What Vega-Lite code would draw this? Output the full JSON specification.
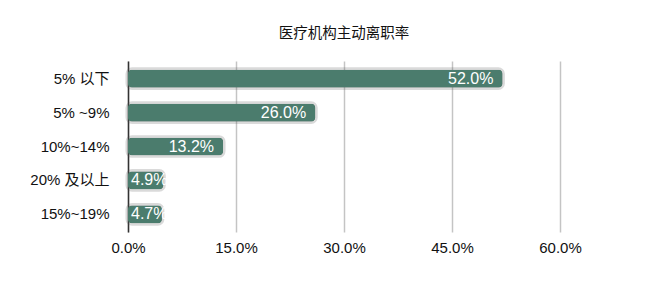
{
  "$schema": "https://vega.github.io/schema/vega-lite/v6.json",
  "autosize": {"type": "none"},
  "width": 432,
  "height": 171,
  "padding": {"left": 128, "top": 61, "right": 104, "bottom": 54},
  "background": "white",
  "title": {
    "text": "医疗机构主动离职率",
    "font": "Noto Sans CJK SC",
    "fontSize": 14.5,
    "fontWeight": "normal",
    "color": "#111",
    "anchor": "middle",
    "offset": 20
  },
  "data": {
    "values": [
      {"cat": "5% 以下", "v": 52.0},
      {"cat": "5% ~9%", "v": 26.0},
      {"cat": "10%~14%", "v": 13.2},
      {"cat": "20% 及以上", "v": 4.9},
      {"cat": "15%~19%", "v": 4.7}
    ]
  },
  "transform": [{"calculate": "format(datum.v, '.1f') + '%'", "as": "label"}],
  "config": {
    "view": {"stroke": null},
    "font": "Liberation Sans, Noto Sans CJK SC"
  },
  "encoding": {
    "y": {
      "field": "cat",
      "type": "nominal",
      "sort": null,
      "scale": {"paddingInner": 0.48, "paddingOuter": 0.26},
      "axis": {
        "title": null,
        "ticks": false,
        "labelFontSize": 15,
        "labelColor": "#111",
        "labelPadding": 19,
        "domainColor": "#333",
        "domainWidth": 1.5,
        "grid": false,
        "labelFont": "Liberation Sans, Noto Sans CJK SC"
      }
    }
  },
  "layer": [
    {
      "mark": {"type": "bar", "cornerRadius": 4, "color": "#4b7c6d", "stroke": "#555", "strokeOpacity": 0.22, "strokeWidth": 5},
      "encoding": {
        "x": {
          "field": "v",
          "type": "quantitative",
          "scale": {"domain": [0, 60]},
          "axis": {
            "title": null,
            "values": [0, 15, 30, 45, 60],
            "labelExpr": "format(datum.value, '.1f') + '%'",
            "labelFontSize": 15,
            "labelColor": "#111",
            "labelPadding": 8,
            "labelFlush": false,
            "ticks": false,
            "domain": false,
            "gridColor": "#c4c4c4",
            "gridWidth": 1.5,
            "labelFont": "Liberation Sans, Noto Sans CJK SC"
          }
        }
      }
    },
    {
      "mark": {"type": "bar", "cornerRadius": 4, "color": "#4b7c6d"},
      "encoding": {"x": {"field": "v", "type": "quantitative"}}
    },
    {
      "transform": [{"filter": "datum.v >= 10"}],
      "mark": {"type": "text", "align": "right", "dx": -9, "color": "white", "fontSize": 16, "baseline": "middle"},
      "encoding": {
        "x": {"field": "v", "type": "quantitative"},
        "text": {"field": "label", "type": "nominal"}
      }
    },
    {
      "transform": [{"filter": "datum.v < 10"}],
      "mark": {"type": "text", "align": "left", "dx": 3, "color": "white", "fontSize": 16, "baseline": "middle"},
      "encoding": {
        "x": {"datum": 0, "type": "quantitative"},
        "text": {"field": "label", "type": "nominal"}
      }
    }
  ]
}
